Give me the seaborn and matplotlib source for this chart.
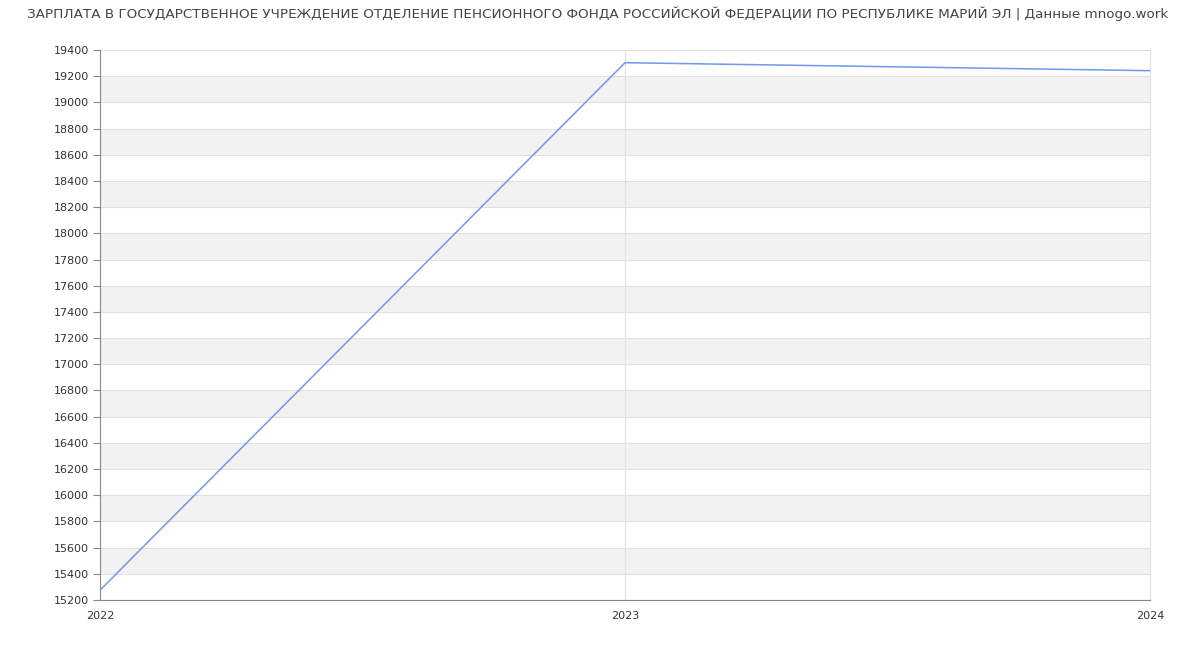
import numpy as np
import pandas as pd
import matplotlib
matplotlib.use("Agg")
import matplotlib.pyplot as plt
import seaborn as sns

years = [2022, 2023, 2024]
salary = [15275, 19303, 19242]
title = "ЗАРПЛАТА В ГОСУДАРСТВЕННОЕ УЧРЕЖДЕНИЕ ОТДЕЛЕНИЕ ПЕНСИОННОГО ФОНДА РОССИЙСКОЙ ФЕДЕРАЦИИ ПО РЕСПУБЛИКЕ МАРИЙ ЭЛ | Данные mnogo.work"

df = pd.DataFrame({"year": years, "salary": salary})

sns.set_theme(style="white")
plt.rcParams['font.family'] = ['DejaVu Sans']

fig = plt.figure(figsize=(12, 6.5), dpi=100)
ax = fig.add_axes([100/1200, 1-600/650, 1050/1200, 550/650])

ymin, ymax, step = 15200, 19400, 200
yticks = np.arange(ymin, ymax + 1, step)
for i, t in enumerate(yticks[:-1]):
    if i % 2 == 1:
        ax.axhspan(t, t + step, color="#f2f2f2", zorder=0, lw=0)
for t in yticks:
    ax.axhline(t, color="#e0e0e0", lw=0.8, zorder=1)
for x in years[1:]:
    ax.axvline(x, color="#e3e3e3", lw=0.9, zorder=1, clip_on=False)

sns.lineplot(data=df, x="year", y="salary", ax=ax, color="#6f98ee", lw=1.1, zorder=3)

ax.set_xlim(years[0], years[-1])
ax.set_ylim(ymin, ymax)
ax.set_yticks(yticks)
ax.set_xticks(years)
ax.set_xticklabels([str(y) for y in years])
ax.set_xlabel("")
ax.set_ylabel("")
ax.tick_params(axis="y", which="both", left=True, length=5, width=0.8, color="#888888", labelsize=8, labelcolor="#333333", pad=3)
ax.tick_params(axis="x", bottom=False, labelsize=8, labelcolor="#333333", pad=2)

ax.spines["top"].set_visible(False)
ax.spines["right"].set_visible(False)
ax.spines["left"].set_color("#888888")
ax.spines["left"].set_linewidth(0.8)
ax.spines["bottom"].set_color("#888888")
ax.spines["bottom"].set_linewidth(0.8)

fig.text(598/1200, 1-14/650, title, ha="center", va="center", fontsize=9.7, color="#444444")

fig.savefig("out.png", dpi=100)
